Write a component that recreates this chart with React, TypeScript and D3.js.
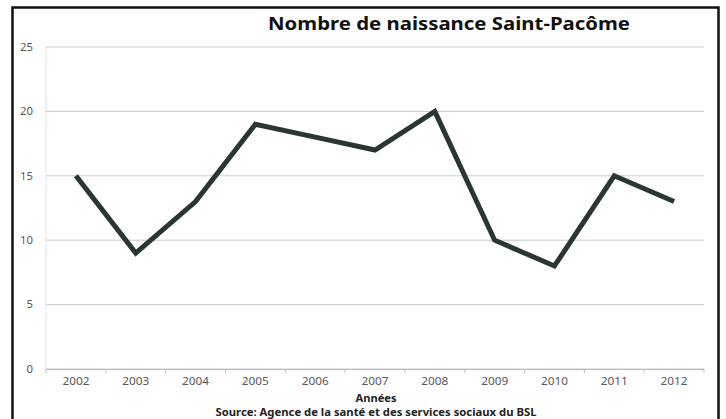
import { useEffect, useRef } from "react";
import * as d3 from "d3";

const years = ["2002", "2003", "2004", "2005", "2006", "2007", "2008", "2009", "2010", "2011", "2012"];
const births = [15, 9, 13, 19, 18, 17, 20, 10, 8, 15, 13];
const yTicks = [0, 5, 10, 15, 20, 25];

const title = "Nombre de naissance Saint-Pacôme";
const xTitle = "Années";
const sourceNote = "Source: Agence de la santé et des services sociaux du BSL";

const W = 726;
const H = 419;

export default function App() {
  const svgRef = useRef<SVGSVGElement | null>(null);

  useEffect(() => {
    const svgEl = svgRef.current;
    if (!svgEl) return;
    const svg = d3.select(svgEl);
    svg.selectAll("*").remove();

    // the scan is stretched sideways, so text widths are pinned with textLength
    const font = "'Noto Sans', sans-serif";
    const margin = { top: 47, left: 46, right: 22, bottom: 50 };
    const innerW = W - margin.left - margin.right;
    const innerH = H - margin.top - margin.bottom;

    svg.append("rect").attr("width", W).attr("height", H).attr("fill", "#fff");

    // frame of the scanned chart
    svg
      .append("rect")
      .attr("x", 12.5)
      .attr("y", 7.5)
      .attr("width", 706)
      .attr("height", 420)
      .attr("fill", "none")
      .attr("stroke", "#111")
      .attr("stroke-width", 2.5);

    const x = d3.scaleBand().domain(years).range([0, innerW]);
    const y = d3.scaleLinear().domain([0, 25]).range([innerH, 0]);

    const g = svg.append("g").attr("transform", `translate(${margin.left},${margin.top})`);

    // gridlines
    g.selectAll("line.grid")
      .data(yTicks)
      .enter()
      .append("line")
      .attr("class", "grid")
      .attr("x1", 0)
      .attr("x2", innerW)
      .attr("y1", (d) => y(d))
      .attr("y2", (d) => y(d))
      .attr("stroke", "#c8c8c8")
      .attr("stroke-width", 1);

    // faint value axis
    g.append("line")
      .attr("x1", 0)
      .attr("x2", 0)
      .attr("y1", 0)
      .attr("y2", innerH)
      .attr("stroke", "#e2e2e2");

    const yAxis = g.append("g").call(d3.axisLeft(y).tickValues(yTicks).tickSize(0).tickPadding(13));
    yAxis.select(".domain").remove();
    yAxis
      .selectAll<SVGTextElement, number>("text")
      .attr("font-family", font)
      .attr("font-size", 10)
      .attr("fill", "#595959")
      .attr("textLength", (d) => String(d).length * 6.5)
      .attr("lengthAdjust", "spacingAndGlyphs");

    const xAxis = g
      .append("g")
      .attr("transform", `translate(0,${innerH})`)
      .call(d3.axisBottom(x).tickSize(0).tickPadding(9));
    xAxis.select(".domain").attr("stroke", "#bdbdbd");
    xAxis
      .selectAll("text")
      .attr("font-family", font)
      .attr("font-size", 10.5)
      .attr("fill", "#595959")
      .attr("textLength", 27)
      .attr("lengthAdjust", "spacingAndGlyphs");

    // category boundary tick marks
    const bounds = years.map((yr) => x(yr) as number).concat([innerW]);
    g.selectAll("line.xtick")
      .data(bounds)
      .enter()
      .append("line")
      .attr("class", "xtick")
      .attr("x1", (d) => d)
      .attr("x2", (d) => d)
      .attr("y1", innerH)
      .attr("y2", innerH + 4)
      .attr("stroke", "#bdbdbd");

    const pts = years.map((yr, i) => ({ yr, v: births[i] }));
    const line = d3
      .line<{ yr: string; v: number }>()
      .x((p) => (x(p.yr) as number) + x.bandwidth() / 2)
      .y((p) => y(p.v));

    g.append("path")
      .datum(pts)
      .attr("fill", "none")
      .attr("stroke", "#2a3731")
      .attr("stroke-width", 5)
      .attr("stroke-linejoin", "miter")
      .attr("d", line as any);

    svg
      .append("text")
      .attr("x", 449)
      .attr("y", 30)
      .attr("text-anchor", "middle")
      .attr("font-family", font)
      .attr("font-weight", "bold")
      .attr("font-size", 18)
      .attr("fill", "#111")
      .attr("textLength", 362)
      .attr("lengthAdjust", "spacingAndGlyphs")
      .text(title);

    svg
      .append("text")
      .attr("x", 376)
      .attr("y", 402)
      .attr("text-anchor", "middle")
      .attr("font-family", font)
      .attr("font-weight", "bold")
      .attr("font-size", 10)
      .attr("fill", "#222")
      .attr("textLength", 41)
      .attr("lengthAdjust", "spacingAndGlyphs")
      .text(xTitle);

    svg
      .append("text")
      .attr("x", 376)
      .attr("y", 416)
      .attr("text-anchor", "middle")
      .attr("font-family", font)
      .attr("font-weight", "bold")
      .attr("font-size", 10)
      .attr("fill", "#222")
      .attr("textLength", 321)
      .attr("lengthAdjust", "spacingAndGlyphs")
      .text(sourceNote);
  }, []);

  return (
    <div style={{ position: "absolute", left: 0, top: 0, width: W, height: H, overflow: "hidden" }}>
      <svg ref={svgRef} width={W} height={H} style={{ display: "block" }} />
    </div>
  );
}
